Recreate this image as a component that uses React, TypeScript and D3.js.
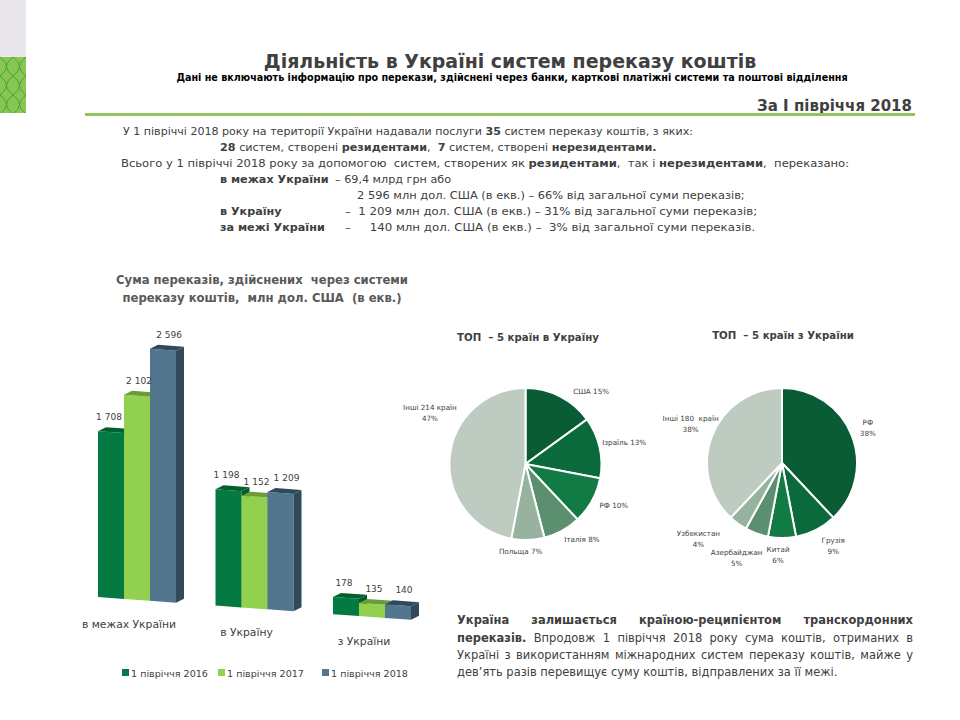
import React from "react";
import * as d3 from "d3";

// ---------- DATA ----------
const groups = ["в межах України", "в Україну", "з України"];
const seriesNames = ["1 півріччя 2016", "1 півріччя 2017", "1 півріччя 2018"];
const values2016 = [1708, 1198, 178];
const values2017 = [2102, 1152, 135];
const values2018 = [2596, 1209, 140];

const pieInNames = ["США", "Ізраїль", "РФ", "Італія", "Польща", "Інші 214 країн"];
const pieInValues = [15, 13, 10, 8, 7, 47];
const pieOutNames = ["РФ", "Грузія", "Китай", "Азербайджан", "Узбекистан", "Інші 180  країн"];
const pieOutValues = [38, 9, 6, 5, 4, 38];

// ---------- STYLE ----------
const FAMILY = "DejaVu Sans";
const FONT = "'DejaVu Sans', Tahoma, sans-serif";
const TXT = "#404040";
const barFront = ["#047a42", "#92d050", "#51768e"];
const barTop = ["#02602f", "#6c9c3a", "#2e4a5d"];
const barSide = ["#025a2c", "#689838", "#32495a"];
const pieColors = ["#0a5c34", "#0a6a3c", "#117a45", "#5b8f6f", "#97b3a0", "#bdcbc1"];
// label placement: [angle nudge (deg), radius factor]
const pieInLabelLayout = [[15, 1.29], [0, 1.33], [-4, 1.28], [-8, 1.24], [5, 1.14], [23, 1.43]];
const pieOutLabelLayout = [[-1, 1.24], [-5, 1.29], [2.5, 1.21], [6, 1.39], [12, 1.5], [2, 1.33]];

const fmt = (v: number) => d3.format(",")(v).replace(/,/g, " ");

type Seg = { t: string; b?: boolean };
let _ctx: CanvasRenderingContext2D | null = null;
function measure(segs: Seg[], size: number, boldAll = false) {
  if (!_ctx) _ctx = document.createElement("canvas").getContext("2d");
  let w = 0;
  for (const s of segs) {
    _ctx!.font = `${s.b || boldAll ? "bold " : ""}${size}px '${FAMILY}'`;
    w += _ctx!.measureText(s.t).width;
  }
  return w;
}
// font size so that the segments fill target width (capped at max)
function fitSize(segs: Seg[], target: number, max: number, boldAll = false) {
  const w = measure(segs, 20, boldAll);
  return Math.min(max, (20 * target) / w);
}

// text line; if len is given, the line is scaled horizontally to that width
function RichText({ x, y, segs, size, fill = TXT, bold, len }: any) {
  const nat = measure(segs, size, bold);
  const sx = len ? len / nat : 1;
  return (
    <g transform={`translate(${x},${y}) scale(${sx},1)`}>
      <text x={0} y={0} fontSize={size} fill={fill} fontFamily={FONT} style={{ whiteSpace: "pre" }}>
        {segs.map((s: Seg, i: number) => (
          <tspan key={i} fontWeight={s.b || bold ? "bold" : "normal"}>{s.t}</tspan>
        ))}
      </text>
    </g>
  );
}

// word-justified line
function Justified({ x, y, width, segs, size, fill = TXT }: any) {
  const words: { t: string; b?: boolean }[] = [];
  segs.forEach((s: Seg) => s.t.split(" ").filter((w) => w.length).forEach((w) => words.push({ t: w, b: s.b })));
  const ws = words.map((w) => measure([w], size));
  const gap = (width - d3.sum(ws)) / (words.length - 1);
  let cx = x;
  return (
    <text y={y} fontSize={size} fill={fill} fontFamily={FONT}>
      {words.map((w, i) => {
        const px = cx;
        cx += ws[i] + gap;
        return <tspan key={i} x={px} fontWeight={w.b ? "bold" : "normal"}>{w.t}</tspan>;
      })}
    </text>
  );
}

function Bars() {
  const xG = d3.scaleBand<string>().domain(groups).range([98, 411]).paddingInner(0.336);
  const xS = d3.scaleBand<string>().domain(seriesNames).range([0, xG.bandwidth()]);
  const yH = d3.scaleLinear().domain([0, 2596]).range([0, 252]);
  const base = (x: number) => 597 + 0.073 * (x - 98);
  const DX = 8, DY = -4;
  const all = [values2016, values2017, values2018];
  const items: any[] = [];
  groups.forEach((g, gi) => {
    seriesNames.forEach((s, si) => {
      const v = all[si][gi];
      const x0 = (xG(g) as number) + (xS(s) as number);
      const x1 = x0 + xS.bandwidth();
      const b0 = base(x0), b1 = base(x1);
      const h = yH(v);
      const t0 = b0 - h, t1 = b1 - h;
      items.push(
        <g key={g + s}>
          <path d={`M${x0},${b0}L${x0},${t0}L${x1},${t1}L${x1},${b1}Z`} fill={barFront[si]} />
          <path d={`M${x0},${t0}L${x0 + DX},${t0 + DY}L${x1 + DX},${t1 + DY}L${x1},${t1}Z`} fill={barTop[si]} />
          <path d={`M${x1},${t1}L${x1 + DX},${t1 + DY}L${x1 + DX},${b1 + DY}L${x1},${b1}Z`} fill={barSide[si]} />
        </g>
      );
    });
  });
  const catSize = fitSize([{ t: groups[0] }], 94, 13);
  const labels: any[] = [];
  groups.forEach((g, gi) => {
    seriesNames.forEach((s, si) => {
      const v = all[si][gi];
      const xc = (xG(g) as number) + (xS(s) as number) + xS.bandwidth() / 2;
      const top = base(xc) - yH(v);
      labels.push(
        <text key={"l" + g + s} x={xc + 2 + (si - 1) * 4} y={top - 12} textAnchor="middle" fontSize={9}
          fill={TXT} fontFamily={FONT}>{fmt(v)}</text>
      );
    });
    const gc = (xG(g) as number) + xG.bandwidth() / 2;
    labels.push(
      <text key={"c" + g} x={gc - 8} y={base(gc) + 28} textAnchor="middle" fontSize={catSize}
        fill={TXT} fontFamily={FONT}>{g}</text>
    );
  });
  const legendX = d3.scaleOrdinal<string, number>().domain(seriesNames).range([122, 218, 322]);
  const legSize = fitSize([{ t: seriesNames[0] }], 77, 11);
  return (
    <g>
      {items}
      {labels}
      {seriesNames.map((s, i) => (
        <g key={s}>
          <rect x={legendX(s)} y={669} width={7} height={7} fill={barFront[i]} />
          <text x={legendX(s) + 9} y={677} fontSize={legSize} fill={TXT} fontFamily={FONT}>{s}</text>
        </g>
      ))}
    </g>
  );
}

function Pie({ cx, cy, r, names, values, layout, twoLineAll }: any) {
  const pie = d3.pie<number>().sort(null).value((d) => d)(values);
  const arc = d3.arc<any>().innerRadius(0).outerRadius(r);
  const total = d3.sum(values);
  return (
    <g transform={`translate(${cx},${cy})`}>
      {pie.map((p, i) => (
        <path key={i} d={arc(p) as string} fill={pieColors[i]} stroke="#fff" strokeWidth={2} />
      ))}
      {pie.map((p, i) => {
        const mid = (p.startAngle + p.endAngle) / 2 + (layout[i][0] * Math.PI) / 180;
        const rr = r * layout[i][1];
        const x = rr * Math.sin(mid), y = -rr * Math.cos(mid);
        const pct = Math.round((values[i] / total) * 100) + "%";
        const two = twoLineAll || i === values.length - 1;
        return two ? (
          <text key={"t" + i} x={x} y={y - 2} textAnchor="middle" fontSize={7.2} fill={TXT} fontFamily={FONT} style={{ whiteSpace: "pre" }}>
            <tspan x={x}>{names[i]}</tspan>
            <tspan x={x} dy={11}>{pct}</tspan>
          </text>
        ) : (
          <text key={"t" + i} x={x} y={y + 3} textAnchor="middle" fontSize={7.2} fill={TXT} fontFamily={FONT}>
            {names[i] + " " + pct}
          </text>
        );
      })}
    </g>
  );
}

const title = "Діяльність в Україні систем переказу коштів";
const subtitle = "Дані не включають інформацію про перекази, здійснені через банки, карткові платіжні системи та поштові відділення";
const block1: Seg[] = [{ t: "У 1 півріччі 2018 року на території України надавали послуги " }, { t: "35", b: true }, { t: " систем переказу коштів, з яких:" }];
const block2: Seg[] = [{ t: "28", b: true }, { t: " систем, створені " }, { t: "резидентами", b: true }, { t: ",  " }, { t: "7", b: true }, { t: " систем, створені " }, { t: "нерезидентами.", b: true }];
const block3: Seg[] = [{ t: "Всього у 1 півріччі 2018 року за допомогою  систем, створених як " }, { t: "резидентами", b: true }, { t: ",  так і " }, { t: "нерезидентами", b: true }, { t: ",  переказано:" }];
const para1: Seg[] = [{ t: "Україна залишається країною-реципієнтом транскордонних", b: true }];
const para2: Seg[] = [{ t: "переказів.", b: true }, { t: " Впродовж 1 півріччя 2018 року сума коштів, отриманих в" }];
const para3: Seg[] = [{ t: "Україні з використанням міжнародних систем переказу коштів, майже у" }];
const para4: Seg[] = [{ t: "дев’ять разів перевищує суму коштів, відправлених за її межі." }];

export default function App() {
  const titleSize = fitSize([{ t: title }], 493, 22, true);
  const subSize = fitSize([{ t: subtitle }], 672, 12, true);
  const bodySize = 11.2;
  const paraSize = fitSize(para4, 381, 12.5);
  const barTitleSize = fitSize([{ t: "Сума переказів, здійснених  через системи" }], 292, 13, true);
  const pieTitleSize = fitSize([{ t: "ТОП  – 5 країн в Україну" }], 142, 13, true);
  return (
    <svg width={960} height={720} style={{ position: "absolute", left: 0, top: 0, background: "#fff" }}>
      <defs>
        <pattern id="lat" patternUnits="userSpaceOnUse" width={13} height={19}>
          <rect width={13} height={19} fill="#88c552" />
          <path d="M0,0 Q13,9.5 0,19 M13,0 Q0,9.5 13,19" stroke="#3f9f3f" strokeWidth={0.9} fill="none" />
        </pattern>
      </defs>
      <rect x={0} y={0} width={26} height={57} fill="#e9e7eb" />
      <rect x={0} y={57} width={26} height={56} fill="url(#lat)" />

      {/* Header */}
      <text x={510} y={68} textAnchor="middle" fontSize={titleSize} fontWeight="bold" fill={TXT} fontFamily={FONT}>{title}</text>
      <text x={512} y={81} textAnchor="middle" fontSize={subSize} fontWeight="bold" fill="#000" fontFamily={FONT}>{subtitle}</text>
      <text x={912} y={111} textAnchor="end" fontSize={15} fontWeight="bold" fill={TXT} fontFamily={FONT}>За І півріччя 2018</text>
      <line x1={85} x2={915} y1={114.5} y2={114.5} stroke="#92c35f" strokeWidth={3} />

      {/* Text block */}
      <RichText x={123} y={135} size={bodySize} len={570} segs={block1} />
      <RichText x={220} y={151} size={bodySize} segs={block2} />
      <RichText x={121} y={167} size={bodySize} len={728} segs={block3} />
      <RichText x={220} y={183} size={bodySize} segs={[{ t: "в межах України", b: true }]} />
      <RichText x={335} y={183} size={bodySize} segs={[{ t: "– 69,4 млрд грн або" }]} />
      <RichText x={357} y={199} size={bodySize} len={388} segs={[{ t: "2 596 млн дол. США (в екв.) – 66% від загальної суми переказів;" }]} />
      <RichText x={220} y={215} size={bodySize} segs={[{ t: "в Україну", b: true }]} />
      <RichText x={345} y={215} size={bodySize} len={412} segs={[{ t: "–  1 209 млн дол. США (в екв.) – 31% від загальної суми переказів;" }]} />
      <RichText x={220} y={231} size={bodySize} segs={[{ t: "за межі України", b: true }]} />
      <RichText x={345} y={231} size={bodySize} len={410} segs={[{ t: "–     140 млн дол. США (в екв.) –  3% від загальної суми переказів." }]} />

      {/* Bar chart title */}
      <text x={262} y={284} textAnchor="middle" fontSize={barTitleSize} fontWeight="bold" fill="#595959" fontFamily={FONT} style={{ whiteSpace: "pre" }}>Сума переказів, здійснених  через системи</text>
      <text x={262} y={302} textAnchor="middle" fontSize={barTitleSize} fontWeight="bold" fill="#595959" fontFamily={FONT} style={{ whiteSpace: "pre" }}>переказу коштів,  млн дол. США  (в екв.)</text>
      <Bars />

      {/* Pie titles */}
      <text x={528} y={341} textAnchor="middle" fontSize={pieTitleSize} fontWeight="bold" fill={TXT} fontFamily={FONT} style={{ whiteSpace: "pre" }}>ТОП  – 5 країн в Україну</text>
      <text x={783} y={339} textAnchor="middle" fontSize={pieTitleSize} fontWeight="bold" fill={TXT} fontFamily={FONT} style={{ whiteSpace: "pre" }}>ТОП  – 5 країн з України</text>
      <Pie cx={525.5} cy={464} r={76} names={pieInNames} values={pieInValues} layout={pieInLabelLayout} twoLineAll={false} />
      <Pie cx={782} cy={463} r={75} names={pieOutNames} values={pieOutValues} layout={pieOutLabelLayout} twoLineAll={true} />

      {/* Bottom paragraph */}
      <Justified x={457} y={624} width={456} size={paraSize} segs={para1} />
      <Justified x={457} y={642} width={456} size={paraSize} segs={para2} />
      <Justified x={457} y={659} width={456} size={paraSize} segs={para3} />
      <RichText x={457} y={676} size={paraSize} segs={para4} />
    </svg>
  );
}
